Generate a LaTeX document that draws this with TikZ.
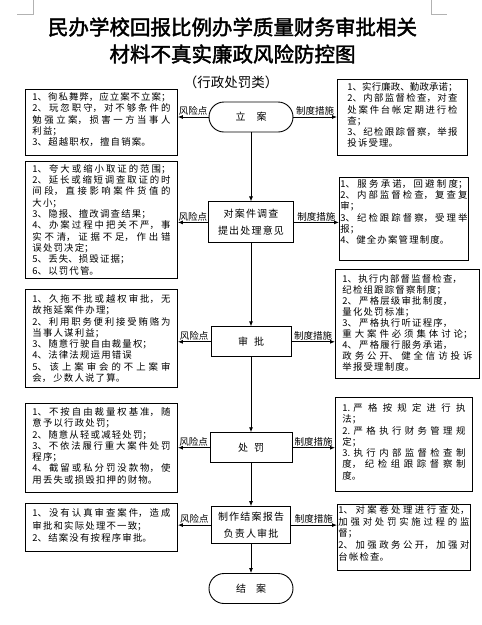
\documentclass[tikz,border=0pt]{standalone}
\usepackage{fontspec}
\setmainfont{Noto Sans CJK SC}
\newfontfamily\titlefont{Noto Sans CJK SC}[FakeBold=2]
\newfontfamily\boxfont{Noto Sans CJK SC}
\newfontfamily\nodefont{Noto Sans CJK SC}[LetterSpace=12]
\usetikzlibrary{arrows.meta,positioning}
\XeTeXlinebreaklocale "zh"
\XeTeXlinebreakskip=1.2pt plus 4pt minus 1.2pt
\tolerance=10000 \hbadness=10000 \vbadness=10000 \hfuzz=3pt
% text block of a side box: [baselineskip]{width}{height}{text}
\newcommand{\boxtext}[4][11.3pt]{\parbox[c][#3][t]{#2}{\boxfont\fontsize{9.4}{#1}\selectfont #4}}

\begin{document}
\begin{tikzpicture}[x=1pt, y=-1pt,
    stepnode/.style={draw, line width=0.9pt, minimum height=30pt, inner sep=0pt,
                     align=center, font=\nodefont\fontsize{10}{17}\selectfont},
    endnode/.style={stepnode, rounded corners=15pt, minimum width=84pt},
    riskbox/.style={draw, line width=0.9pt, anchor=north west,
                    inner xsep=7pt, inner ysep=3pt},
    arr/.style={-{Latex[length=5pt,width=4pt]}, line width=0.8pt},
    sidelbl/.style={font=\boxfont\fontsize{9.5}{11}\selectfont, inner sep=1pt, above},
  ]
    \useasboundingbox (0,0) rectangle (482,625);
    \fill[white] (0,0) rectangle (482,625);

    % page corner marks
    \draw[gray!60, line width=0.6pt] (33,0) -- (33,14) -- (17,14);
    \draw[gray!60, line width=0.6pt] (431,0) -- (431,14) -- (447,14);

    % Title
    \node[font=\titlefont\fontsize{20.5}{27}\selectfont, align=center] (title) at (232.5,40.5)
      {民办学校回报比例办学质量财务审批相关\\材料不真实廉政风险防控图};
    \node[font=\fontsize{13.5}{16}\selectfont] (subtitle) at (231,82) {（行政处罚类）};

    % Main flow, top to bottom
    \node[endnode] (start) at (251,117) {立\hspace{11pt}案};
    \node[stepnode, minimum width=85pt, minimum height=41pt, below=69pt of start] (probe)
      {对案件调查\\提出处理意见};
    \node[stepnode, minimum width=80pt, below=83pt of probe] (review) {审\hspace{6pt}批};
    \node[stepnode, minimum width=82pt, below=75pt of review] (punish) {处\hspace{6pt}罚};
    \node[stepnode, minimum width=79pt, minimum height=37pt, below=43pt of punish] (report)
      {制作结案报告\\负责人审批};
    \node[endnode, below=29pt of report] (close) {结\hspace{10pt}案};

    \foreach \a/\b in {start/probe, probe/review, review/punish, punish/report, report/close}
      \draw[arr] (\a) -- (\b);

    % Risk points (left column)
    \node[riskbox] (risk1) at (25,89) {\boxtext{138pt}{60pt}{%
      1、徇私舞弊，应立案不立案；\linebreak 2、玩忽职守，对不够条件的\linebreak
      勉强立案，损害一方当事人\linebreak 利益；\\ 3、超越职权，擅自销案。}};
    \node[riskbox] (risk2) at (25,161) {\boxtext{138pt}{111pt}{%
      1、夸大或缩小取证的范围；\linebreak 2、延长或缩短调查取证的时\linebreak
      间段，直接影响案件货值的\linebreak 大小；\\ 3、隐报、擅改调查结果；\\
      4、办案过程中把关不严，事\linebreak 实不清，证据不足，作出错\linebreak
      误处罚决定；\\ 5、丢失、损毁证据；\\ 6、以罚代管。}};
    \node[riskbox, inner ysep=5pt] (risk3) at (25,289) {\boxtext{138pt}{88pt}{%
      1、久拖不批或越权审批，无\linebreak 故拖延案件办理；\\
      2、利用职务便利接受贿赂为\linebreak 当事人谋利益；\\ 3、随意行驶自由裁量权；\\
      4、法律法规运用错误\\ 5、\ 该上案审会的不上案审\linebreak 会，\ 少数人说了算。}};
    \node[riskbox, inner ysep=4pt] (risk4) at (25,403) {\boxtext{138pt}{81pt}{%
      1、不按自由裁量权基准，随\linebreak 意予以行政处罚；\\ 2、随意从轻或减轻处罚；\\
      3、不依法履行重大案件处罚\linebreak 程序；\\
      4、截留或私分罚没款物，使\linebreak 用丢失或损毁扣押的财物。}};
    \node[riskbox, inner ysep=5pt] (risk5) at (25,503) {\boxtext[12.7pt]{138pt}{38pt}{%
      1、没有认真审查案件，造成\linebreak 审批和实际处理不一致；\\ 2、结案没有按程序审批。}};

    % Rules (right column)
    \node[riskbox, inner xsep=10pt] (rule1) at (337,79) {\boxtext{110pt}{70pt}{%
      1、实行廉政、勤政承诺；\linebreak 2、内部监督检查，对查\linebreak
      处案件台帐定期进行检\linebreak 查；\\ 3、纪检跟踪督察，举报\linebreak 投诉受理。}};
    \node[riskbox, inner xsep=1pt, inner ysep=2pt] (rule2) at (339,177) {\boxtext{127pt}{79pt}{%
      1、服务承诺，回避制度；\linebreak 2、内部监督检查，复查复\linebreak 审；\\
      3、纪检跟踪督察，受理举\linebreak 报；\\ 4、健全办案管理制度。}};
    \node[riskbox, inner ysep=5pt] (rule3) at (335,269) {\boxtext[11pt]{130pt}{99pt}{%
      1、执行内部督监督检查，\\ 纪检组跟踪督察制度；\\ 2、\ 严格层级审批制度，\\
      量化处罚标准；\\ 3、\ 严格执行听证程序，\\ 重大案件必须集体讨论；\linebreak
      4、\ 严格履行服务承诺，\\ 政务公开、健全信访投诉\linebreak 举报受理制度。}};
    \node[riskbox, inner ysep=6pt] (rule4) at (335,397) {\boxtext{123pt}{82pt}{%
      1.\ 严格按规定进行执\linebreak 法；\\ 2.严格执行财务管理规\linebreak 定；\\
      3.执行内部监督检查制\linebreak 度，纪检组跟踪督察制\linebreak 度。}};
    \node[riskbox, inner xsep=1pt, inner ysep=1pt] (rule5) at (337,504) {\boxtext[11.7pt]{131pt}{64pt}{%
      1、\ 对案卷处理进行查处，\linebreak 加强对处罚实施过程的监\linebreak 督；\\
      2、\ 加强政务公开，加强对\linebreak 台帐检查。}};

    % Side arrows
    \foreach \s/\r/\c in {start/risk1/rule1, probe/risk2/rule2, review/risk3/rule3,
                          punish/risk4/rule4, report/risk5/rule5} {
      \draw[arr] (\s.west) -- node[sidelbl] {风险点} (\s.west -| \r.east);
      \draw[arr] (\s.east) -- node[sidelbl] {制度措施} (\s.east -| \c.west);
    }
\end{tikzpicture}
\end{document}
